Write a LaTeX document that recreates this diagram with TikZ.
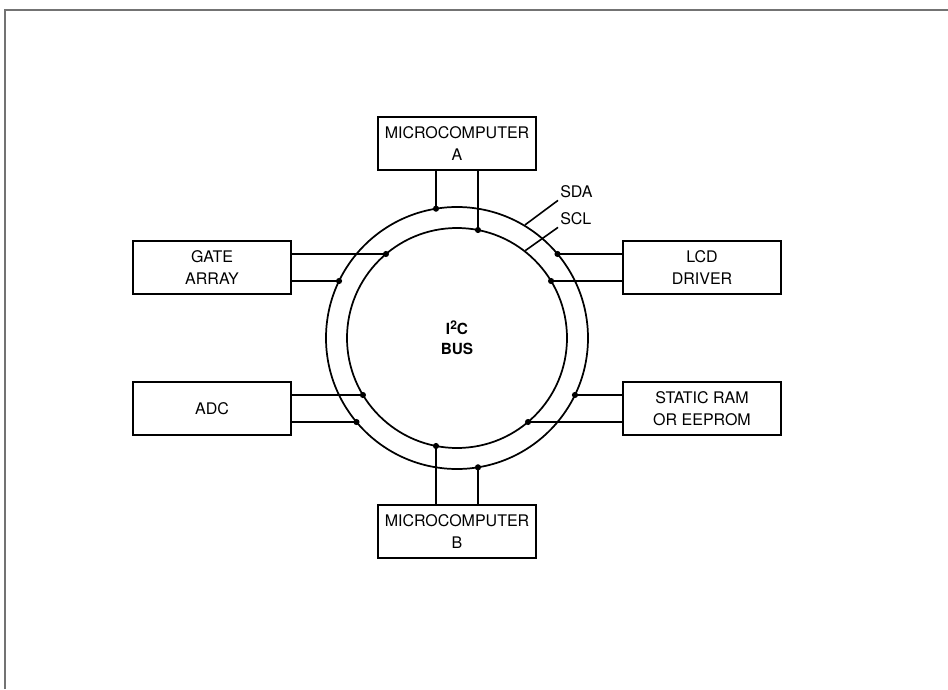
\documentclass[tikz,border=0pt]{standalone}
\usepackage{fontspec}
\setmainfont{TeX Gyre Heros}
\usepackage{tikz}
\usetikzlibrary{calc}

\begin{document}
\begin{tikzpicture}[
  x=0.75pt, y=0.75pt,
  box/.style={draw, line width=1.6pt, minimum width=118pt, minimum height=39.5pt, inner sep=0pt, align=center, font=\fontsize{12}{16}\selectfont},
  ring/.style={circle, draw, line width=1.3pt, inner sep=0pt},
  wire/.style={line width=1.2pt},
  lbl/.style={anchor=west, inner sep=1.5pt, font=\fontsize{12}{14}\selectfont},
]
\def\ro{131}
\def\ri{110}
\useasboundingbox (-457,-351) rectangle (491,338);

% Frame
\draw[line width=1.5pt, black!55] (-452,-351) -- (-452,328) -- (491,328);

% Bus lines
\node[ring, minimum size=196.5pt] (sda) at (0,0) {};
\node[ring, minimum size=165pt] (scl) at (0,0) {};
\node[font=\fontsize{11.5}{15}\selectfont\bfseries, align=center] (bus) at (0,0)
  {I\raisebox{0.55ex}{\fontsize{9}{9}\selectfont\bfseries 2}C\\BUS};

% Devices
\node[box] (mcA) at (0,194.5) {MICROCOMPUTER\\A};
\node[box] (mcB) at (0,-193.5) {MICROCOMPUTER\\B};
\node[box] (gate) at (-245,70.5) {GATE\\ARRAY};
\node[box] (adc) at (-245,-70.5) {ADC};
\node[box] (lcd) at (245,70.5) {LCD\\DRIVER};
\node[box] (ram) at (245,-70.5) {STATIC RAM\\OR EEPROM};

% Taps on the bus
\coordinate (a1) at (-21,{\ro*sqrt(1-(21/\ro)^2)});
\coordinate (a2) at (21,{\ri*sqrt(1-(21/\ri)^2)});
\coordinate (b1) at (-21,{-\ri*sqrt(1-(21/\ri)^2)});
\coordinate (b2) at (21,{-\ro*sqrt(1-(21/\ro)^2)});
\coordinate (g1) at ({-\ri*sqrt(1-(84/\ri)^2)},84);
\coordinate (g2) at ({-\ro*sqrt(1-(57/\ro)^2)},57);
\coordinate (d1) at ({-\ri*sqrt(1-(57/\ri)^2)},-57);
\coordinate (d2) at ({-\ro*sqrt(1-(84/\ro)^2)},-84);
\coordinate (l1) at ({\ro*sqrt(1-(84/\ro)^2)},84);
\coordinate (l2) at ({\ri*sqrt(1-(57/\ri)^2)},57);
\coordinate (r1) at ({\ro*sqrt(1-(57/\ro)^2)},-57);
\coordinate (r2) at ({\ri*sqrt(1-(84/\ri)^2)},-84);

% Connections
\draw[wire] (a1 |- mcA.south) -- (a1);
\draw[wire] (a2 |- mcA.south) -- (a2);
\draw[wire] (b1 |- mcB.north) -- (b1);
\draw[wire] (b2 |- mcB.north) -- (b2);
\draw[wire] (g1 -| gate.east) -- (g1);
\draw[wire] (g2 -| gate.east) -- (g2);
\draw[wire] (d1 -| adc.east) -- (d1);
\draw[wire] (d2 -| adc.east) -- (d2);
\draw[wire] (l1 -| lcd.west) -- (l1);
\draw[wire] (l2 -| lcd.west) -- (l2);
\draw[wire] (r1 -| ram.west) -- (r1);
\draw[wire] (r2 -| ram.west) -- (r2);

% Junction dots
\fill (a1) circle (2.3pt);
\fill (a2) circle (2.3pt);
\fill (b1) circle (2.3pt);
\fill (b2) circle (2.3pt);
\fill (g1) circle (2.3pt);
\fill (g2) circle (2.3pt);
\fill (d1) circle (2.3pt);
\fill (d2) circle (2.3pt);
\fill (l1) circle (2.3pt);
\fill (l2) circle (2.3pt);
\fill (r1) circle (2.3pt);
\fill (r2) circle (2.3pt);

% Line names
\node[lbl] (sdalbl) at (101,146) {SDA};
\node[lbl] (scllbl) at (101,119) {SCL};
\draw[wire] (sda.59) -- (sdalbl.south west);
\draw[wire] (scl.52) -- (scllbl.south west);

\end{tikzpicture}
\end{document}
